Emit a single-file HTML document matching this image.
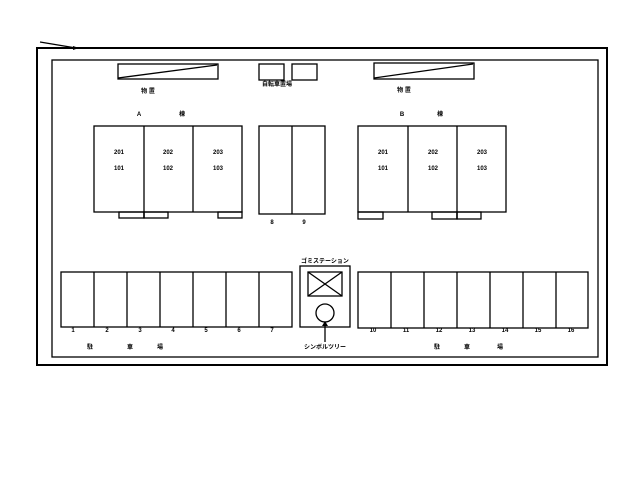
<!DOCTYPE html>
<html><head><meta charset="utf-8"><style>
body{margin:0;background:#fff;}
svg{display:block}
text{font-family:"Liberation Sans","Noto Sans CJK JP",sans-serif;font-size:6px;font-weight:bold;fill:#000;text-anchor:middle}
</style></head><body>
<svg width="640" height="480" viewBox="0 0 640 480" xmlns="http://www.w3.org/2000/svg">
<g fill="none" stroke="#000" stroke-width="1.3">
<rect x="37" y="48" width="570" height="317" stroke-width="2"/>
<rect x="52" y="60" width="546" height="297"/>
<line x1="40" y1="42" x2="76" y2="48"/>
<!-- storage A -->
<rect x="118" y="64" width="100" height="15"/><line x1="118" y1="78" x2="217" y2="65"/>
<rect x="259" y="64" width="25" height="16"/><rect x="292" y="64" width="25" height="16"/>
<!-- storage B -->
<rect x="374" y="63" width="100" height="16"/><line x1="374" y1="78" x2="473" y2="64"/>
<!-- A building -->
<rect x="94" y="126" width="148" height="86"/><line x1="144" y1="126" x2="144" y2="218"/><line x1="193" y1="126" x2="193" y2="212"/>
<rect x="119" y="212" width="25" height="6"/><rect x="144" y="212" width="24" height="6"/><rect x="218" y="212" width="24" height="6"/>
<!-- 8/9 -->
<rect x="259" y="126" width="66" height="88"/><line x1="292" y1="126" x2="292" y2="214"/>
<!-- B building -->
<rect x="358" y="126" width="148" height="86"/><line x1="408" y1="126" x2="408" y2="212"/><line x1="457" y1="126" x2="457" y2="219"/>
<rect x="358" y="212" width="25" height="7"/><rect x="432" y="212" width="25" height="7"/><rect x="457" y="212" width="24" height="7"/>
<!-- left parking -->
<rect x="61" y="272" width="231" height="55"/>
<line x1="94" y1="272" x2="94" y2="327"/><line x1="127" y1="272" x2="127" y2="327"/><line x1="160" y1="272" x2="160" y2="327"/><line x1="193" y1="272" x2="193" y2="327"/><line x1="226" y1="272" x2="226" y2="327"/><line x1="259" y1="272" x2="259" y2="327"/>
<!-- gomi -->
<rect x="300" y="266" width="50" height="61"/>
<rect x="308" y="272" width="34" height="24"/><line x1="308" y1="272" x2="342" y2="296"/><line x1="342" y1="272" x2="308" y2="296"/>
<circle cx="325" cy="313" r="9"/>
<line x1="325" y1="342" x2="325" y2="323"/>
<!-- right parking -->
<rect x="358" y="272" width="230" height="56"/>
<line x1="391" y1="272" x2="391" y2="328"/><line x1="424" y1="272" x2="424" y2="328"/><line x1="457" y1="272" x2="457" y2="328"/><line x1="490" y1="272" x2="490" y2="328"/><line x1="523" y1="272" x2="523" y2="328"/><line x1="556" y1="272" x2="556" y2="328"/>
</g>
<polygon points="73,46 79,48 73,50" fill="#000"/>
<polygon points="322,326 325,321 328,326" fill="#000"/>
<text x="277" y="86" style="font-size:6px">自転車置場</text>
<text x="148" y="93">物 置</text><text x="404" y="92">物 置</text>
<text x="139" y="116">A</text><text x="182" y="116">棟</text>
<text x="402" y="116">B</text><text x="440" y="116">棟</text>
<text x="119" y="154">201</text><text x="168" y="154">202</text><text x="218" y="154">203</text>
<text x="119" y="170">101</text><text x="168" y="170">102</text><text x="218" y="170">103</text>
<text x="383" y="154">201</text><text x="433" y="154">202</text><text x="482" y="154">203</text>
<text x="383" y="170">101</text><text x="433" y="170">102</text><text x="482" y="170">103</text>
<text x="272" y="224">8</text><text x="304" y="224">9</text>
<text x="325" y="263">ゴミステーション</text>
<text x="325" y="349">シンボルツリー</text>
<text x="73" y="332">1</text><text x="107" y="332">2</text><text x="140" y="332">3</text><text x="173" y="332">4</text><text x="206" y="332">5</text><text x="239" y="332">6</text><text x="272" y="332">7</text>
<text x="373" y="332">10</text><text x="406" y="332">11</text><text x="439" y="332">12</text><text x="472" y="332">13</text><text x="505" y="332">14</text><text x="538" y="332">15</text><text x="571" y="332">16</text>
<text x="90" y="349">駐</text><text x="130" y="349">車</text><text x="160" y="349">場</text>
<text x="437" y="349">駐</text><text x="467" y="349">車</text><text x="500" y="349">場</text>
</svg>
</body></html>
